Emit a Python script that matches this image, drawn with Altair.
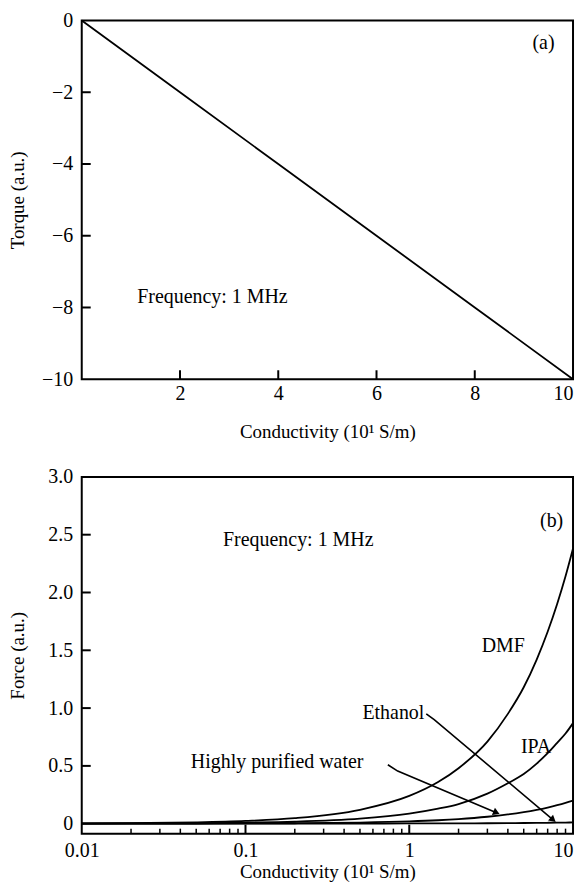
import altair as alt
import pandas as pd

FONT = "Liberation Serif"

# ---------- panel (a) data ----------
sigma_a = [0, 2, 4, 6, 8, 10]
torque = [0, -2, -4, -6, -8, -10]

# ---------- panel (b) data ----------
sigma_b = [0.01, 0.02, 0.05, 0.1, 0.2, 0.5, 1, 1.5, 2, 3, 4, 5, 6, 7, 8, 9, 10]
force_dmf = [0.003, 0.005, 0.012, 0.024, 0.048, 0.12, 0.24, 0.36, 0.48, 0.71, 0.95, 1.18, 1.42, 1.66, 1.90, 2.14, 2.38]
force_ipa = [0.001, 0.002, 0.004, 0.009, 0.017, 0.043, 0.087, 0.13, 0.17, 0.26, 0.35, 0.43, 0.52, 0.61, 0.70, 0.78, 0.87]
force_water = [0.0, 0.0, 0.001, 0.002, 0.004, 0.01, 0.02, 0.03, 0.04, 0.06, 0.08, 0.10, 0.12, 0.14, 0.16, 0.18, 0.20]
force_ethanol = [0.0, 0.0, 0.0, 0.0, 0.001, 0.001, 0.002, 0.002, 0.003, 0.004, 0.005, 0.006, 0.007, 0.008, 0.009, 0.010, 0.011]
series_names = ["DMF", "IPA", "Highly purified water", "Ethanol"]

xa_ticks = [2, 4, 6, 8]
ya_ticks = [-2, -4, -6, -8]
xb_major = [0.1, 1]
xb_minor = [0.02, 0.03, 0.04, 0.05, 0.06, 0.07, 0.08, 0.09,
            0.2, 0.3, 0.4, 0.5, 0.6, 0.7, 0.8, 0.9,
            2, 3, 4, 5, 6, 7, 8, 9]
yb_ticks = [0.5, 1.0, 1.5, 2.0, 2.5]

# annotations
a_labels = ["(a)", "Frequency: 1 MHz"]
a_lx = [9.4, 2.66]
a_ly = [-0.62, -7.7]

b_labels = ["(b)", "Frequency: 1 MHz", "DMF", "IPA", "Ethanol", "Highly purified water"]
b_lx = [7.4, 0.21, 3.75, 5.95, 0.80, 0.156]
b_ly = [2.62, 2.45, 1.54, 0.66, 0.96, 0.53]

# arrows: (start, hook, tip)
water_ax = [0.74, 0.85, 3.41]
water_ay = [0.51, 0.455, 0.095]
eth_ax = [1.27, 1.42, 7.56]
eth_ay = [0.95, 0.90, 0.034]

W = 493
H1 = 360
H2 = 358
LBL = 20
TTL = 19
ANN = 20

last_right = {"condition": {"test": "datum.value >= 10", "value": "right"}, "value": "center"}

# ---------------- panel (a) ----------------
xA = alt.X("x:Q", scale=alt.Scale(domain=[0, 10], nice=False, zero=False),
           axis=alt.Axis(values=[2, 4, 6, 8, 10], title="Conductivity (10¹ S/m)",
                         labelPadding=4, titleY=43, labelAlign=last_right))
yA = alt.Y("y:Q", scale=alt.Scale(domain=[-10, 0], nice=False, zero=False),
           axis=alt.Axis(values=[0, -2, -4, -6, -8, -10], title="Torque (a.u.)",
                         labelPadding=9, titleX=-54))

dfa = pd.DataFrame({"x": sigma_a, "y": torque})
line_a = alt.Chart(dfa).mark_line(color="black", strokeWidth=1.8).encode(x=xA, y=yA)

txt_a = alt.Chart(pd.DataFrame({"x": a_lx, "y": a_ly, "t": a_labels})).mark_text(
    font=FONT, fontSize=ANN, color="black", baseline="middle", align="center"
).encode(x=xA, y=yA, text="t:N")

tick_xa = alt.Chart(pd.DataFrame({"x": xa_ticks})).mark_rule(color="black", strokeWidth=2).encode(
    x=xA, y=alt.value(H1), y2=alt.value(H1 - 9))
tick_ya = alt.Chart(pd.DataFrame({"y": ya_ticks})).mark_rule(color="black", strokeWidth=2).encode(
    y=yA, x=alt.value(0), x2=alt.value(9))

panel_a = alt.layer(line_a, tick_xa, tick_ya, txt_a).properties(width=W, height=H1)

# ---------------- panel (b) ----------------
xB = alt.X("x:Q", scale=alt.Scale(type="log", domain=[0.01, 10], nice=False),
           axis=alt.Axis(values=[0.01, 0.1, 1, 10], format="~g", title="Conductivity (10¹ S/m)",
                         labelPadding=7, titleY=29, labelAlign=last_right))
yB = alt.Y("y:Q", scale=alt.Scale(domain=[-0.086, 3.0], nice=False, zero=False),
           axis=alt.Axis(values=[0, 0.5, 1.0, 1.5, 2.0, 2.5, 3.0],
                         labelExpr="datum.value == 0 ? '0' : format(datum.value, '.1f')",
                         title="Force (a.u.)", labelPadding=9, titleX=-54))

rows = []
for name, vals in zip(series_names, [force_dmf, force_ipa, force_water, force_ethanol]):
    for s, v in zip(sigma_b, vals):
        rows.append({"x": s, "y": v, "s": name})
dfb = pd.DataFrame(rows)
lines_b = alt.Chart(dfb).mark_line(color="black", strokeWidth=1.8, interpolate="monotone").encode(
    x=xB, y=yB, detail="s:N")

txt_b = alt.Chart(pd.DataFrame({"x": b_lx, "y": b_ly, "t": b_labels})).mark_text(
    font=FONT, fontSize=ANN, color="black", baseline="middle", align="center"
).encode(x=xB, y=yB, text="t:N")

arr_rows = []
for k, (xs, ys) in enumerate([(water_ax, water_ay), (eth_ax, eth_ay)]):
    for i, (xx, yy) in enumerate(zip(xs, ys)):
        arr_rows.append({"x": xx, "y": yy, "a": k, "o": i})
arr_df = pd.DataFrame(arr_rows)
arrows = alt.Chart(arr_df).mark_line(color="black", strokeWidth=1.6).encode(
    x=xB, y=yB, detail="a:N", order="o:Q")

head_w = alt.Chart(pd.DataFrame({"x": [water_ax[-1]], "y": [water_ay[-1]]})).mark_point(
    shape="triangle-up", filled=True, color="black", opacity=1, size=60, angle=113
).encode(x=xB, y=yB)
head_e = alt.Chart(pd.DataFrame({"x": [eth_ax[-1]], "y": [eth_ay[-1]]})).mark_point(
    shape="triangle-up", filled=True, color="black", opacity=1, size=60, angle=130
).encode(x=xB, y=yB)

tick_xb_major = alt.Chart(pd.DataFrame({"x": xb_major})).mark_rule(color="black", strokeWidth=2).encode(
    x=xB, y=alt.value(H2), y2=alt.value(H2 - 9))
tick_xb_minor = alt.Chart(pd.DataFrame({"x": xb_minor})).mark_rule(color="black", strokeWidth=1.5).encode(
    x=xB, y=alt.value(H2), y2=alt.value(H2 - 5))
tick_yb = alt.Chart(pd.DataFrame({"y": yb_ticks})).mark_rule(color="black", strokeWidth=2).encode(
    y=yB, x=alt.value(0), x2=alt.value(9))

panel_b = alt.layer(lines_b, arrows, head_w, head_e, tick_xb_major, tick_xb_minor, tick_yb, txt_b).properties(
    width=W, height=H2)

chart = alt.vconcat(panel_a, panel_b, spacing=24).properties(
    padding={"left": 0, "top": 0, "right": 0, "bottom": 0},
    background="white"
).configure_axis(
    domain=False, ticks=False, grid=False, labelFlush=False,
    labelFont=FONT, labelFontSize=LBL, labelColor="black",
    titleFont=FONT, titleFontSize=TTL, titleFontWeight="normal", titleColor="black"
).configure_view(stroke="black", strokeWidth=2)

chart.save("out.html", embed_options={"renderer": "svg", "actions": False})
